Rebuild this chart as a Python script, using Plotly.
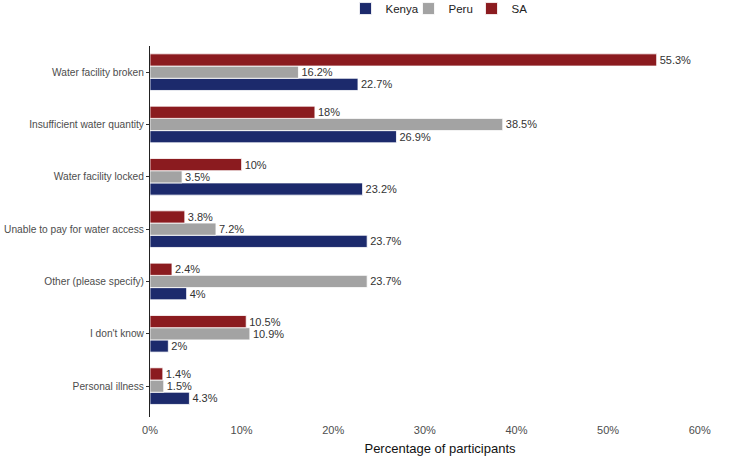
import plotly.graph_objects as go

categories = ["Water facility broken", "Insufficient water quantity", "Water facility locked",
              "Unable to pay for water access", "Other (please specify)", "I don't know",
              "Personal illness"]
kenya = [22.7, 26.9, 23.2, 23.7, 4, 2, 4.3]
peru = [16.2, 38.5, 3.5, 7.2, 23.7, 10.9, 1.5]
sa = [55.3, 18, 10, 3.8, 2.4, 10.5, 1.4]
series_names = ["Kenya", "Peru", "SA"]
colors = ["#1c2a6c", "#a3a3a3", "#8b1b1f"]
x_ticks = [0, 10, 20, 30, 40, 50, 60]

font_fam = "Arial, Liberation Sans, sans-serif"
fig = go.Figure()
for name, vals, col in zip(series_names, [kenya, peru, sa], colors):
    fig.add_trace(go.Bar(
        y=categories, x=vals, name=name, orientation="h",
        marker=dict(color=col, line=dict(color="white", width=0.8)),
        text=[f"{v:g}%" for v in vals], textposition="outside",
        textfont=dict(size=11, color="#333333", family=font_fam),
        cliponaxis=False,
    ))

fig.update_layout(
    width=732, height=456,
    margin=dict(l=150, r=2, t=46, b=39, autoexpand=False),
    barmode="group", bargap=0.3, bargroupgap=0,
    plot_bgcolor="white", paper_bgcolor="white",
    font=dict(family=font_fam, color="#4d4d4d", size=11),
    legend=dict(orientation="h", x=0.5, xanchor="center", y=1.14, yanchor="top",
                font=dict(size=11.5, color="#222222"), traceorder="normal",
                itemwidth=30, entrywidth=18),
    showlegend=True,
)
fig.update_xaxes(
    range=[0, 63.3], tickvals=x_ticks, ticktext=[f"{t}%" for t in x_ticks],
    showgrid=False, zeroline=False, showline=False, ticks="",
    tickfont=dict(size=11, color="#4d4d4d"), ticklabelstandoff=5,
    title=dict(text="Percentage of participants", font=dict(size=13, color="#111111"), standoff=8),
    automargin=False,
)
fig.update_yaxes(
    categoryorder="array", categoryarray=list(reversed(categories)),
    range=[-0.59, 6.5],
    showgrid=False, zeroline=False, showline=True, linecolor="#222222", linewidth=1,
    ticks="outside", ticklen=3, tickcolor="#333333",
    tickfont=dict(size=10.2, color="#4d4d4d"),
    automargin=False,
)
fig.write_html("out.html")
